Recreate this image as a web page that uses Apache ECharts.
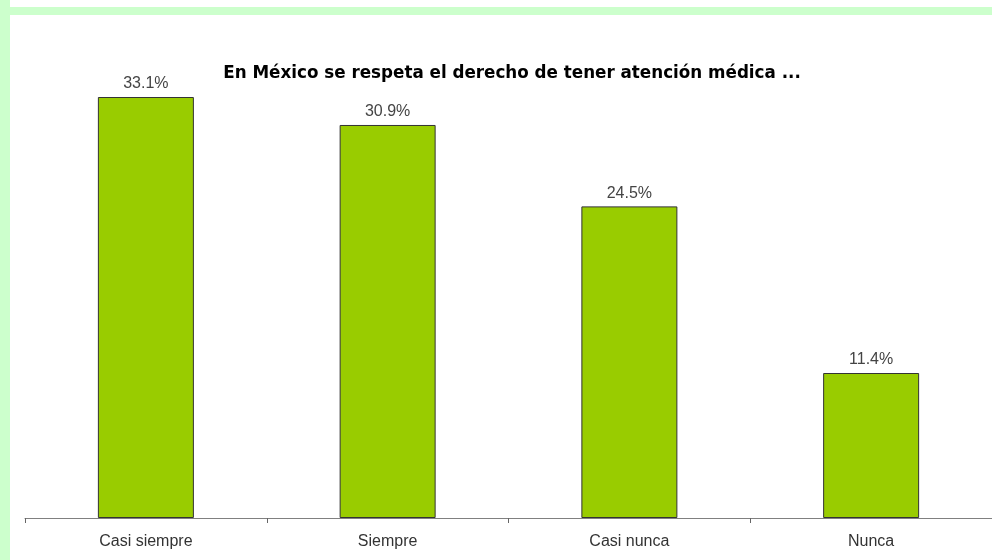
<!DOCTYPE html>
<html>
<head>
<meta charset="utf-8">
<script src="https://cdn.jsdelivr.net/npm/echarts@6/dist/echarts.min.js"></script>
<style>
html,body{margin:0;padding:0;background:#fff;}
#wrap{position:relative;width:992px;height:560px;overflow:hidden;background:#fff;}
#lft{position:absolute;left:0;top:0;width:10px;height:560px;background:#ccffcc;}
#tp{position:absolute;left:10px;top:7px;width:982px;height:8px;background:#ccffcc;}
#chart{position:absolute;left:0;top:0;width:992px;height:560px;}
</style>
</head>
<body>
<div id="wrap"><div id="chart"></div><div id="lft"></div><div id="tp"></div></div>
<script>
var categories = ['Casi siempre', 'Siempre', 'Casi nunca', 'Nunca'];
var values = [33.1, 30.9, 24.5, 11.4];
var titleText = 'En México se respeta el derecho de tener atención médica ...';

var chart = echarts.init(document.getElementById('chart'), null, {renderer: 'canvas'});
chart.setOption({
  animation: false,
  backgroundColor: 'transparent',
  title: {
    text: titleText,
    left: 507, top: 60, textAlign: 'center',
    textStyle: {fontFamily: 'DejaVu Sans, sans-serif', fontSize: 16.75, fontWeight: 'bold', color: '#000'}
  },
  grid: {left: 25, width: 970, top: 97, bottom: 42, containLabel: false},
  xAxis: {
    type: 'category', data: categories,
    axisLine: {lineStyle: {color: '#808080', width: 1}},
    axisTick: {show: true, length: 5, lineStyle: {color: '#666'}},
    axisLabel: {fontFamily: 'Liberation Sans, Arial, sans-serif', fontSize: 16, color: '#333', margin: 16}
  },
  yAxis: {type: 'value', min: 0, max: 33.1, show: false, splitLine: {show: false}},
  series: [{
    type: 'bar', data: values, barWidth: 96,
    itemStyle: {color: '#99cc00', borderColor: '#333', borderWidth: 1},
    label: {show: true, position: 'top', distance: 5, formatter: function(p){return p.value.toFixed(1) + '%';},
      fontFamily: 'Liberation Sans, Arial, sans-serif', fontSize: 16, color: '#444'}
  }]
});
</script>
</body>
</html>
